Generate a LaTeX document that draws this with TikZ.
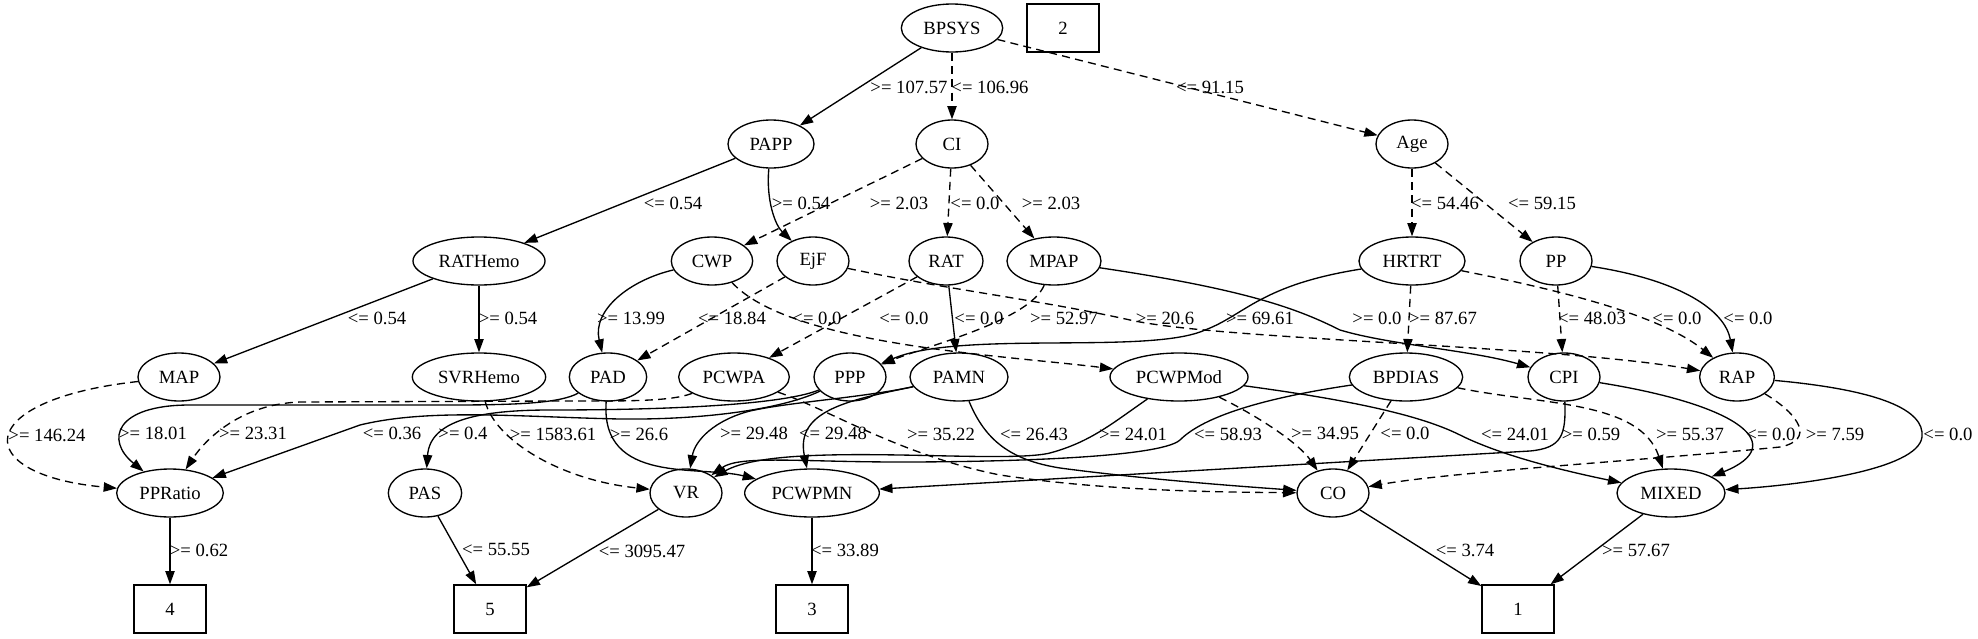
\documentclass[tikz,border=0pt]{standalone}
\usepackage{fontspec}
\setmainfont{Liberation Serif}
\usetikzlibrary{arrows.meta,shapes.geometric}
\begin{document}
\begin{tikzpicture}[x=0.75pt,y=-0.75pt,
  var/.style={ellipse,draw,line width=1pt,inner sep=0pt,minimum height=36pt,font=\fontsize{14}{16}\selectfont},
  leaf/.style={rectangle,draw,line width=1pt,minimum width=54pt,minimum height=36pt,font=\fontsize{14}{16}\selectfont},
  e/.style={-{Triangle[length=10pt,width=7pt]},line width=1pt},
  dsh/.style={dash pattern=on 6pt off 4pt},
  lab/.style={font=\fontsize{14}{16}\selectfont,inner sep=0pt}
]
\useasboundingbox (0,0) rectangle (1978,639);
\foreach \n/\x/\y/\w in {BPSYS/952/28/76,PAPP/771/144/64.5,CI/952/144/54,Age/1412/144/54,
  RATHemo/479/261/99,CWP/712/261/61,EjF/813/261/54,RAT/946/261/55.5,MPAP/1054/261/70.5,HRTRT/1412/261/79.5,PP/1556/261/54,
  MAP/179/377/61.5,SVRHemo/479/377/100,PAD/608/377/58,PCWPA/734/377/83,PPP/850/377/54,PAMN/959/377/73.5,
  PCWPMod/1179/377/103.5,BPDIAS/1406/377/85,CPI/1564/377/54,RAP/1737/377/56,
  PPRatio/170/493/80,PAS/425/493/55,VR/686/493/54,PCWPMN/812/493/101,CO/1333/493/54,MIXED/1671/493/81}
  {\node[var,minimum width=\w pt] (\n) at (\x,\y) {\n};}
\foreach \n/\x/\y in {2/1063/28,4/170/609,5/490/609,3/812/609,1/1518/609}
  {\node[leaf] (c\n) at (\x,\y) {\n};}

\foreach \a/\b/\s/\x/\y/\t in {BPSYS/PAPP/solid/909/87/{>= 107.57},BPSYS/CI/dsh/990/87/{<= 106.96},
  BPSYS/Age/dsh/1210/87/{<= 91.15},PAPP/RATHemo/solid/673/203/{<= 0.54},CI/CWP/dsh/899/203/{>= 2.03},
  CI/RAT/dsh/975/203/{<= 0.0},CI/MPAP/dsh/1051/203/{>= 2.03},Age/HRTRT/dsh/1445/203/{<= 54.46},
  Age/PP/dsh/1542/203/{<= 59.15},RATHemo/MAP/solid/377/318/{<= 0.54},RATHemo/SVRHemo/solid/508/318/{>= 0.54},
  EjF/PAD/dsh/732/318/{<= 18.84},RAT/PCWPA/dsh/904/318/{<= 0.0},RAT/PAMN/solid/979/318/{<= 0.0},
  HRTRT/BPDIAS/dsh/1443/318/{>= 87.67},PP/CPI/dsh/1592/318/{<= 48.03},BPDIAS/CO/dsh/1405/433/{<= 0.0},
  PPRatio/c4/solid/199/550/{>= 0.62},PAS/c5/solid/496/550/{<= 55.55},VR/c5/solid/642/551/{<= 3095.47},
  PCWPMN/c3/solid/845/550/{<= 33.89},CO/c1/solid/1465/550/{<= 3.74},MIXED/c1/solid/1636/550/{>= 57.67}}
  {\draw[e,\s] (\a) -- (\b) node[lab] (l-\a-\b) at (\x,\y) {\t};}

\draw[e] (PAPP) .. controls (766,200) and (775,225) .. (EjF) node[lab] (l-PAPP-EjF) at (801,203) {>= 0.54};
\draw[e] (CWP) .. controls (630,280) and (592,310) .. (PAD) node[lab] (l-CWP-PAD) at (631,318) {>= 13.99};
\draw[e,dsh] (CWP) .. controls (790,345) and (1000,355) .. (PCWPMod) node[lab] (l-CWP-PCWPMod) at (817,318) {<= 0.0};
\draw[e,dsh] (MPAP) .. controls (1030,320) and (930,345) .. (PPP) node[lab] (l-MPAP-PPP) at (1064,318) {>= 52.97};
\draw[e,dsh] (EjF) .. controls (950,290) and (1040,300) .. (1130,320) .. controls (1220,340) and (1550,345) .. (RAP)
  node[lab] (l-EjF-RAP) at (1165,318) {>= 20.6};
\draw[e] (HRTRT) .. controls (1260,285) and (1245,315) .. (1205,330) .. controls (1150,355) and (960,330) .. (PPP)
  node[lab] (l-HRTRT-PPP) at (1260,318) {>= 69.61};
\draw[e] (MPAP) .. controls (1250,290) and (1300,310) .. (1340,330) .. controls (1390,345) and (1470,350) .. (CPI)
  node[lab] (l-MPAP-CPI) at (1377,318) {>= 0.0};
\draw[e,dsh] (HRTRT) .. controls (1560,290) and (1660,315) .. (RAP) node[lab] (l-HRTRT-RAP) at (1677,318) {<= 0.0};
\draw[e] (PP) .. controls (1680,280) and (1725,310) .. (RAP) node[lab] (l-PP-RAP) at (1748,318) {<= 0.0};

\draw[e,dsh] (MAP) .. controls (-30,400) and (-30,475) .. (PPRatio) node[lab] (l-MAP-PPRatio) at (47,435) {>= 146.24};
\draw[e] (PAD) .. controls (560,403) and (520,405) .. (450,405) -- (190,405) .. controls (115,405) and (105,440) .. (PPRatio)
  node[lab] (l-PAD-PPRatio) at (153,433) {>= 18.01};
\draw[e,dsh] (PCWPA) .. controls (670,402) and (620,401) .. (560,401) -- (300,402) .. controls (240,404) and (205,440) .. (PPRatio)
  node[lab] (l-PCWPA-PPRatio) at (253,433) {>= 23.31};
\draw[e] (PPP) .. controls (780,410) and (700,420) .. (620,419) .. controls (520,417) and (430,408) .. (360,425) -- (PPRatio)
  node[lab] (l-PPP-PPRatio) at (392,433) {<= 0.36};
\draw[e] (PPP) .. controls (790,402) and (700,410) .. (550,410) .. controls (480,410) and (430,420) .. (PAS)
  node[lab] (l-PPP-PAS) at (463,433) {>= 0.4};
\draw[e,dsh] (SVRHemo) .. controls (495,440) and (560,480) .. (VR) node[lab] (l-SVRHemo-VR) at (553,434) {>= 1583.61};
\draw[e] (PAD) .. controls (600,485) and (700,465) .. (PCWPMN) node[lab] (l-PAD-PCWPMN) at (639,434) {>= 26.6};
\draw[e] (PAMN) .. controls (860,398) and (790,402) .. (750,411) .. controls (715,420) and (695,440) .. (VR)
  node[lab] (l-PAMN-VR) at (754,433) {>= 29.48};
\draw[e] (PAMN) .. controls (850,400) and (795,410) .. (PCWPMN) node[lab] (l-PAMN-PCWPMN) at (833,433) {<= 29.48};
\draw[e,dsh] (PCWPA) .. controls (830,410) and (900,455) .. (1000,475) .. controls (1100,490) and (1200,492) .. (CO)
  node[lab] (l-PCWPA-CO) at (941,434) {>= 35.22};
\draw[e] (PAMN) .. controls (985,440) and (1010,460) .. (1060,468) .. controls (1150,480) and (1250,487) .. (CO)
  node[lab] (l-PAMN-CO) at (1034,434) {<= 26.43};
\draw[e] (PCWPMod) .. controls (1110,425) and (1090,442) .. (1050,453) .. controls (1000,465) and (780,440) .. (VR)
  node[lab] (l-PCWPMod-VR) at (1133,434) {>= 24.01};
\draw[e] (BPDIAS) .. controls (1250,400) and (1200,420) .. (1180,440) .. controls (1160,458) and (1000,462) .. (900,462)
  .. controls (800,462) and (740,455) .. (VR) node[lab] (l-BPDIAS-VR) at (1228,434) {<= 58.93};
\draw[e,dsh] (PCWPMod) .. controls (1265,420) and (1300,445) .. (CO) node[lab] (l-PCWPMod-CO) at (1325,433) {>= 34.95};
\draw[e] (PCWPMod) .. controls (1350,400) and (1420,415) .. (1460,435) .. controls (1500,455) and (1560,470) .. (MIXED)
  node[lab] (l-PCWPMod-MIXED) at (1515,434) {<= 24.01};
\draw[e] (CPI) .. controls (1566,435) and (1562,448) .. (1530,451) -- (PCWPMN) node[lab] (l-CPI-PCWPMN) at (1591,434) {>= 0.59};
\draw[e,dsh] (BPDIAS) .. controls (1540,405) and (1640,400) .. (MIXED) node[lab] (l-BPDIAS-MIXED) at (1690,434) {>= 55.37};
\draw[e] (CPI) .. controls (1740,405) and (1790,445) .. (MIXED) node[lab] (l-CPI-MIXED) at (1771,434) {<= 0.0};
\draw[e,dsh] (RAP) .. controls (1800,415) and (1815,440) .. (1780,447) .. controls (1650,460) and (1450,472) .. (CO)
  node[lab] (l-RAP-CO) at (1835,434) {>= 7.59};
\draw[e] (RAP) .. controls (1880,390) and (1925,410) .. (1922,437) .. controls (1918,470) and (1800,485) .. (MIXED)
  node[lab] (l-RAP-MIXED) at (1948,434) {<= 0.0};
\end{tikzpicture}
\end{document}
